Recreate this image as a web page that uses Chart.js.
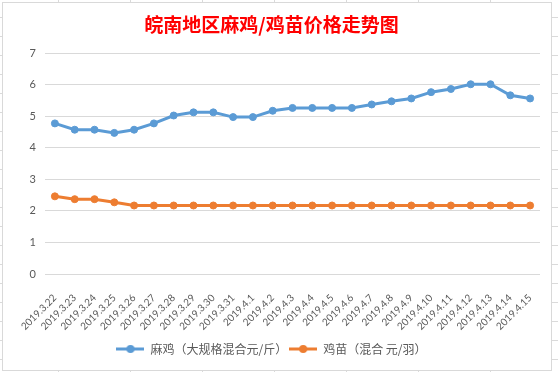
<!DOCTYPE html>
<html><head><meta charset="utf-8">
<script src="https://cdn.jsdelivr.net/npm/chart.js@4"></script>
<style>
html,body{margin:0;padding:0;width:558px;height:372px;overflow:hidden;background:#fff;}
body{background-image:linear-gradient(to right,#dadada 1px,transparent 1px),linear-gradient(to bottom,#dadada 1px,transparent 1px);background-size:72px 19px;background-position:58px 17px;}
#frame{position:absolute;left:2px;top:2px;width:548px;height:367px;border:1px solid #d9d9d9;background:#fff;}
canvas{display:block;}
</style></head><body>
<div id="frame"><canvas id="c" width="548" height="367"></canvas></div>
<script>
const categories = ["2019.3.22","2019.3.23","2019.3.24","2019.3.25","2019.3.26","2019.3.27","2019.3.28","2019.3.29","2019.3.30","2019.3.31","2019.4.1","2019.4.2","2019.4.3","2019.4.4","2019.4.5","2019.4.6","2019.4.7","2019.4.8","2019.4.9","2019.4.10","2019.4.11","2019.4.12","2019.4.13","2019.4.14","2019.4.15"];
const majiPrices = [4.77,4.57,4.57,4.47,4.57,4.77,5.02,5.12,5.12,4.97,4.97,5.17,5.26,5.26,5.26,5.26,5.37,5.47,5.56,5.76,5.86,6.01,6.01,5.66,5.56];
const jimiaoPrices = [2.46,2.37,2.37,2.27,2.17,2.17,2.17,2.17,2.17,2.17,2.17,2.17,2.17,2.17,2.17,2.17,2.17,2.17,2.17,2.17,2.17,2.17,2.17,2.17,2.17];
const seriesNames = ["麻鸡（大规格混合元/斤）","鸡苗（混合 元/羽）"];
const titleText = "皖南地区麻鸡/鸡苗价格走势图";
const yMin = 0, yMax = 7, yStep = 1;
const colors = ["#5B9BD5","#ED7D31"];

function marker(color){
  const c=document.createElement('canvas'); c.width=28; c.height=10;
  const g=c.getContext('2d');
  g.strokeStyle=color; g.lineWidth=3; g.beginPath(); g.moveTo(0,5); g.lineTo(28,5); g.stroke();
  g.fillStyle=color; g.beginPath(); g.arc(14,5,4,0,Math.PI*2); g.fill();
  return c;
}
const markers = colors.map(marker);

new Chart(document.getElementById('c'), {
  type:'line',
  data:{
    labels:categories,
    datasets:[
      {label:seriesNames[0], data:majiPrices, borderColor:colors[0], backgroundColor:colors[0], borderWidth:3, pointRadius:3.5, pointBorderWidth:1, pointBorderColor:colors[0], pointBackgroundColor:colors[0], tension:0},
      {label:seriesNames[1], data:jimiaoPrices, borderColor:colors[1], backgroundColor:colors[1], borderWidth:3, pointRadius:3.5, pointBorderWidth:1, pointBorderColor:colors[1], pointBackgroundColor:colors[1], tension:0}
    ]
  },
  options:{
    responsive:false, animation:false, devicePixelRatio:1,
    layout:{padding:{left:0,right:11,top:0,bottom:5}},
    plugins:{
      tooltip:{enabled:false},
      title:{display:true, text:titleText, color:'#ff0000', font:{size:19, weight:'bold', family:'"Noto Sans CJK SC"'}, padding:{top:10,bottom:17.2}},
      legend:{position:'bottom', labels:{usePointStyle:true, pointStyleWidth:28, color:'#595959', font:{size:12, family:'"Noto Sans CJK SC"'}, padding:2,
        generateLabels(chart){
          const items = Chart.defaults.plugins.legend.labels.generateLabels(chart);
          items.forEach((it,i)=>{ it.pointStyle = markers[i]; });
          return items;
        }}}
    },
    scales:{
      x:{offset:true, grid:{display:false}, border:{display:false},
        ticks:{color:'#595959', font:{size:10, family:'Lato'}, minRotation:45, maxRotation:45, autoSkip:false, padding:10},
        afterFit(a){ a.height = 67; }},
      y:{min:yMin, max:yMax, grid:{color:'#d9d9d9', drawTicks:false, lineWidth:1}, border:{display:false},
        ticks:{stepSize:yStep, color:'#595959', font:{size:11, family:'Lato'}, padding:9},
        afterFit(a){ a.width = 42; }}
    }
  }
});
</script></body></html>
